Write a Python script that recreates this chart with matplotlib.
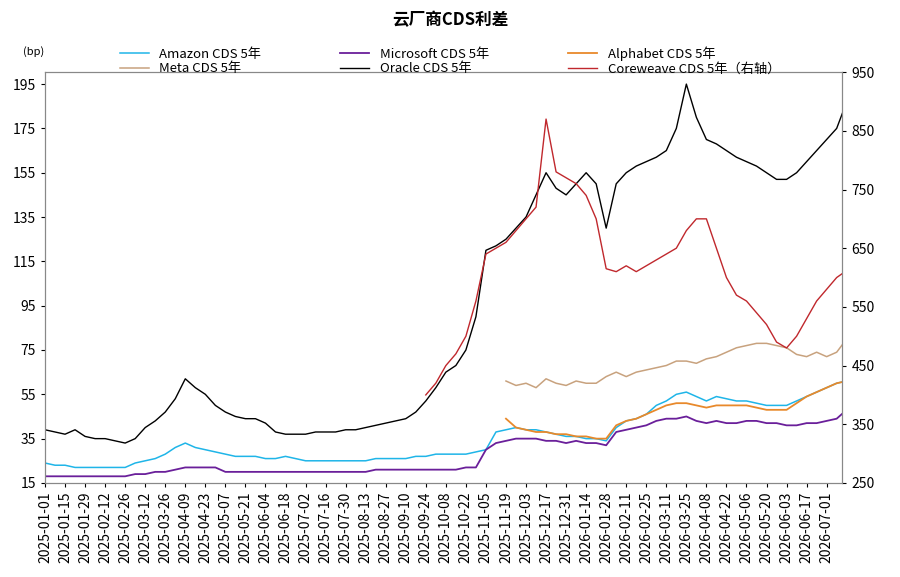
import numpy as np
import pandas as pd
import matplotlib
matplotlib.use("Agg")
import matplotlib.pyplot as plt
import matplotlib.dates as mdates

plt.rcParams['font.family'] = ['Noto Sans CJK SC', 'DejaVu Sans']

dates = pd.date_range("2025-01-01", periods=81, freq="7D")
nan = np.nan

oracle = [39,38,37,39,36,35,35,34,33,35,
          40,43,47,53,62,58,55,50,47,45,
          44,44,42,38,37,37,37,38,38,38,
          39,39,40,41,42,43,44,47,52,58,
          65,68,75,90,120,122,125,130,135,145,
          155,148,145,150,155,150,130,150,155,158,
          160,162,165,175,195,180,170,168,165,162,
          160,158,155,152,152,155,160,165,170,175,
          187]
amazon = [24,23,23,22,22,22,22,22,22,24,
          25,26,28,31,33,31,30,29,28,27,
          27,27,26,26,27,26,25,25,25,25,
          25,25,25,26,26,26,26,27,27,28,
          28,28,28,29,30,38,39,40,39,39,
          38,37,36,36,35,35,34,40,43,44,
          46,50,52,55,56,54,52,54,53,52,
          52,51,50,50,50,52,54,56,58,60,
          61]
microsoft = [18,18,18,18,18,18,18,18,18,19,
             19,20,20,21,22,22,22,22,20,20,
             20,20,20,20,20,20,20,20,20,20,
             20,20,20,21,21,21,21,21,21,21,
             21,21,22,22,30,33,34,35,35,35,
             34,34,33,34,33,33,32,38,39,40,
             41,43,44,44,45,43,42,43,42,42,
             43,43,42,42,41,41,42,42,43,44,
             48]
alphabet = [nan]*46 + [44,40,39,38,
            38,37,37,36,36,35,35,41,43,44,
            46,48,50,51,51,50,49,50,50,50,
            50,49,48,48,48,51,54,56,58,60,
            61]
meta = [nan]*46 + [61,59,60,58,
        62,60,59,61,60,60,63,65,63,65,
        66,67,68,70,70,69,71,72,74,76,
        77,78,78,77,76,73,72,74,72,74,
        80]
coreweave = [nan]*38 + [400,420,
             450,470,500,560,640,650,660,680,700,720,
             870,780,770,760,740,700,615,610,620,610,
             620,630,640,650,680,700,700,650,600,570,
             560,540,520,490,480,500,530,560,580,600,
             612]

fig = plt.figure(figsize=(9, 5.77), dpi=100)
ax = fig.add_axes([0.05, 0.163, 0.886, 0.712])
ax2 = ax.twinx()

l1, = ax.plot(dates, amazon, color='#1fb5e8', lw=1.1, label='Amazon CDS 5年')
l2, = ax.plot(dates, microsoft, color='#6a1f9a', lw=1.3, label='Microsoft CDS 5年')
l3, = ax.plot(dates, alphabet, color='#e8892b', lw=1.3, label='Alphabet CDS 5年')
l4, = ax.plot(dates, meta, color='#c8a27e', lw=1.1, label='Meta CDS 5年')
l5, = ax.plot(dates, oracle, color='black', lw=1.0, label='Oracle CDS 5年')
l6, = ax2.plot(dates, coreweave, color='#c0282d', lw=1.0, label='Coreweave CDS 5年（右轴）')

ax.set_ylim(15, 200.4)
ax.set_yticks(range(15, 200, 20))
ax2.set_ylim(250, 950)
ax2.set_yticks(range(250, 951, 100))
ax.set_xlim(pd.Timestamp("2025-01-01"), pd.Timestamp("2026-07-12"))
ticks = pd.date_range("2025-01-01", "2026-07-12", freq="14D")
ax.set_xticks(ticks)
ax.xaxis.set_major_formatter(mdates.DateFormatter('%Y-%m-%d'))
plt.setp(ax.get_xticklabels(), rotation=90)
for a in (ax, ax2):
    a.tick_params(labelsize=10, length=3)
    for s in a.spines.values():
        s.set_color('#888888')

fig.text(0.5, 0.965, '云厂商CDS利差', ha='center', va='center', fontsize=12, fontweight='bold')
fig.text(0.025, 0.905, '(bp)', fontsize=8)
fig.legend(handles=[l1, l4, l2, l5, l3, l6], ncol=3, loc='upper center',
           bbox_to_anchor=(0.5, 0.94), frameon=False, fontsize=9.5,
           handlelength=2.2, columnspacing=6, labelspacing=0.1)

fig.savefig('out.png', dpi=100)
